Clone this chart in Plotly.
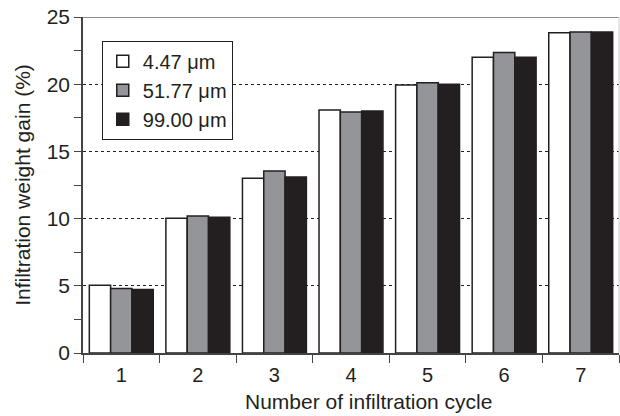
import plotly.graph_objects as go

# Infiltration weight gain per cycle for three particle sizes
cycles = ["1", "2", "3", "4", "5", "6", "7"]
series_names = ["4.47 μm", "51.77 μm", "99.00 μm"]
gain_4_47 = [5.05, 10.02, 13.0, 18.08, 19.94, 22.0, 23.83]
gain_51_77 = [4.8, 10.19, 13.54, 17.93, 20.1, 22.35, 23.88]
gain_99_00 = [4.73, 10.1, 13.1, 18.0, 20.0, 22.0, 23.88]

fills = ["#ffffff", "#939598", "#231f20"]
outline = "#231f20"
font_family = "Liberation Sans, Arial, sans-serif"

fig = go.Figure()
for name, vals, col in zip(series_names, [gain_4_47, gain_51_77, gain_99_00], fills):
    fig.add_trace(go.Bar(
        x=cycles, y=vals, name=name,
        marker=dict(color=col, line=dict(color=outline, width=1.5)),
    ))

fig.update_layout(
    width=620, height=416,
    margin=dict(l=83, r=1, t=17, b=63),
    paper_bgcolor="white", plot_bgcolor="white",
    barmode="group", bargap=0.165, bargroupgap=0,
    font=dict(family=font_family, size=20, color="#231f20"),
    showlegend=True,
    legend=dict(
        x=0.035, y=0.929, xanchor="left", yanchor="top",
        bgcolor="white", bordercolor="#231f20", borderwidth=1,
        font=dict(size=20), itemwidth=30,
    ),
)

fig.update_xaxes(
    type="category",
    tickson="boundaries",
    ticks="outside", ticklen=8, tickwidth=1, tickcolor="#444",
    showline=True, linecolor="#444", linewidth=1.5,
    mirror=False,
    showgrid=False,
    ticklabelstandoff=3,
    tickfont=dict(size=20),
)

# x-axis title placed slightly right of the plot centre
fig.add_annotation(
    text="Number of infiltration cycle", xref="paper", yref="paper",
    x=0.532, y=-0.143, xanchor="center", yanchor="middle",
    showarrow=False, font=dict(size=21),
)

fig.update_yaxes(
    range=[0, 25], dtick=5, tick0=0,
    ticks="outside", ticklen=7, tickwidth=1, tickcolor="#444",
    minor=dict(dtick=2.5, ticks="outside", ticklen=7, tickwidth=1,
               tickcolor="#444", showgrid=False),
    showline=True, linecolor="#444", linewidth=1.5,
    showgrid=True, gridcolor="#231f20", griddash="dot", gridwidth=1,
    zeroline=False,
    title=dict(text="Infiltration weight gain (%)", standoff=10,
               font=dict(size=21)),
    tickfont=dict(size=21),
)

# frame: solid top edge and faint right edge
fig.add_shape(type="line", xref="paper", yref="y", x0=0, x1=1, y0=25, y1=25,
              line=dict(color="#666", width=1.5))
fig.add_shape(type="line", xref="paper", yref="paper", x0=1, x1=1, y0=0, y1=1,
              line=dict(color="#ccc", width=1))

fig.write_html("out.html")
